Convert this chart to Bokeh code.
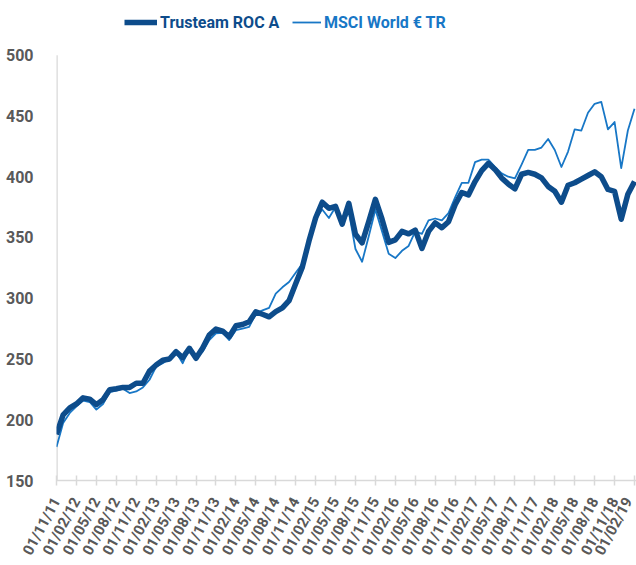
from bokeh.plotting import figure
from bokeh.models import Range1d, FixedTicker, Legend, LegendItem
from bokeh.embed import file_html
from bokeh.resources import INLINE

# ---- data (monthly, 01/11/11 .. 01/02/19) ----
trusteam = [188, 204, 209.7, 213, 218, 217, 212.4, 216.5, 224.7, 225.5, 226.6, 226.6,
            230, 230, 240, 245, 249, 250, 256, 251, 258.8, 250.6, 259, 269.7,
            274.6, 273, 268.3, 277.3, 278.4, 280.6, 288.8, 286.8, 284.7, 289, 292, 298,
            311.9, 325.6, 347, 366, 379, 374, 375.6, 361, 378, 352.6, 345.5, 363,
            381.4, 365, 346, 348, 355, 353, 356, 341, 355, 362, 358, 363,
            377, 387, 385, 396, 405, 411, 406, 399, 394, 390, 402, 403.5,
            402, 399, 392, 388, 379, 393, 395, 398, 401, 404, 400, 389.5,
            388, 365, 385.5, 396]
msci = [177.6, 197.4, 205.6, 211, 215.7, 214.6, 208.3, 213, 222.8, 223.9, 225.5, 222,
        223.3, 226.6, 232.9, 243.8, 246.5, 250.6, 255.5, 246.5, 258.8, 250.6, 256, 265.6,
        271, 271.6, 265.6, 273.7, 275, 276.5, 287.4, 290, 292, 303.7, 309, 313.3,
        320.9, 328.3, 346, 365, 373, 366, 375, 361, 371, 340.5, 330, 351,
        373, 355, 336.6, 333, 339, 343, 355, 353, 364, 365.6, 364, 370,
        383, 395, 395, 412, 414, 414, 408, 402.7, 400, 398.6, 410, 422,
        422, 424, 431, 422, 408, 420.7, 439, 438, 452.6, 460, 461.6, 439,
        445, 407, 438, 456]
tick_labels = ["01/11/11", "01/02/12", "01/05/12", "01/08/12", "01/11/12",
               "01/02/13", "01/05/13", "01/08/13", "01/11/13",
               "01/02/14", "01/05/14", "01/08/14", "01/11/14",
               "01/02/15", "01/05/15", "01/08/15", "01/11/15",
               "01/02/16", "01/05/16", "01/08/16", "01/11/16",
               "01/02/17", "01/05/17", "01/08/17", "01/11/17",
               "01/02/18", "01/05/18", "01/08/18", "01/11/18",
               "01/02/19"]
y_ticks = [150, 200, 250, 300, 350, 400, 450, 500]
series_names = ["Trusteam ROC A", "MSCI World € TR"]

months = list(range(len(trusteam)))
tick_pos = [3 * i for i in range(len(tick_labels))]

NAVY = "#0D4C8B"
BLUE = "#1877C6"
GRAY = "#595959"
AXIS = "#D9D9D9"
FONT = "Roboto"

# frame spans to the top of the canvas so the legend can sit inside it
p = figure(width=636, height=565, output_backend="svg", toolbar_location=None,
           x_range=Range1d(0, 87.3), y_range=Range1d(150, 545),
           min_border_left=56, min_border_right=0, min_border_top=0, min_border_bottom=82)
p.outline_line_color = None
p.grid.visible = False

# y axis line only from the lowest to the highest tick
p.segment(x0=[0], y0=[y_ticks[0]], x1=[0], y1=[y_ticks[-1]], line_color=AXIS, line_width=2.5)

r_m = p.line(months, msci, line_color=BLUE, line_width=1.8, line_join="round")
r_t = p.line(months, trusteam, line_color=NAVY, line_width=5.5, line_join="round")

# x axis
xa = p.xaxis[0]
xa.ticker = FixedTicker(ticks=tick_pos)
xa.major_label_overrides = {pos: lab for pos, lab in zip(tick_pos, tick_labels)}
xa.major_label_orientation = 1.08
xa.major_label_text_font = FONT
xa.major_label_text_font_style = "bold"
xa.major_label_text_font_size = "15px"
xa.major_label_text_color = GRAY
xa.major_label_standoff = 13
xa.axis_line_color = AXIS
xa.axis_line_width = 1.5
xa.major_tick_line_color = AXIS
xa.major_tick_line_width = 1.5
xa.major_tick_in = 5
xa.major_tick_out = 5
xa.minor_tick_line_color = None

# y axis
ya = p.yaxis[0]
ya.ticker = FixedTicker(ticks=y_ticks)
ya.major_label_text_font = FONT
ya.major_label_text_font_style = "bold"
ya.major_label_text_font_size = "16px"
ya.major_label_text_color = GRAY
ya.major_label_standoff = 17
ya.axis_line_color = None
ya.major_tick_line_color = None
ya.minor_tick_line_color = None

def make_legend(name, rend, color, loc, gw):
    return Legend(items=[LegendItem(label=name, renderers=[rend])], location=loc,
                  orientation="horizontal", glyph_width=gw, glyph_height=20,
                  label_height=20, label_standoff=3, padding=0, margin=0,
                  border_line_color=None, background_fill_alpha=0,
                  label_text_font=FONT, label_text_font_style="bold",
                  label_text_font_size="16px", label_text_color=color)

p.add_layout(make_legend(series_names[0], r_t, NAVY, (68, 448), 33))
p.add_layout(make_legend(series_names[1], r_m, BLUE, (236, 448), 29))

open("out.html", "w").write(file_html(p, INLINE))
